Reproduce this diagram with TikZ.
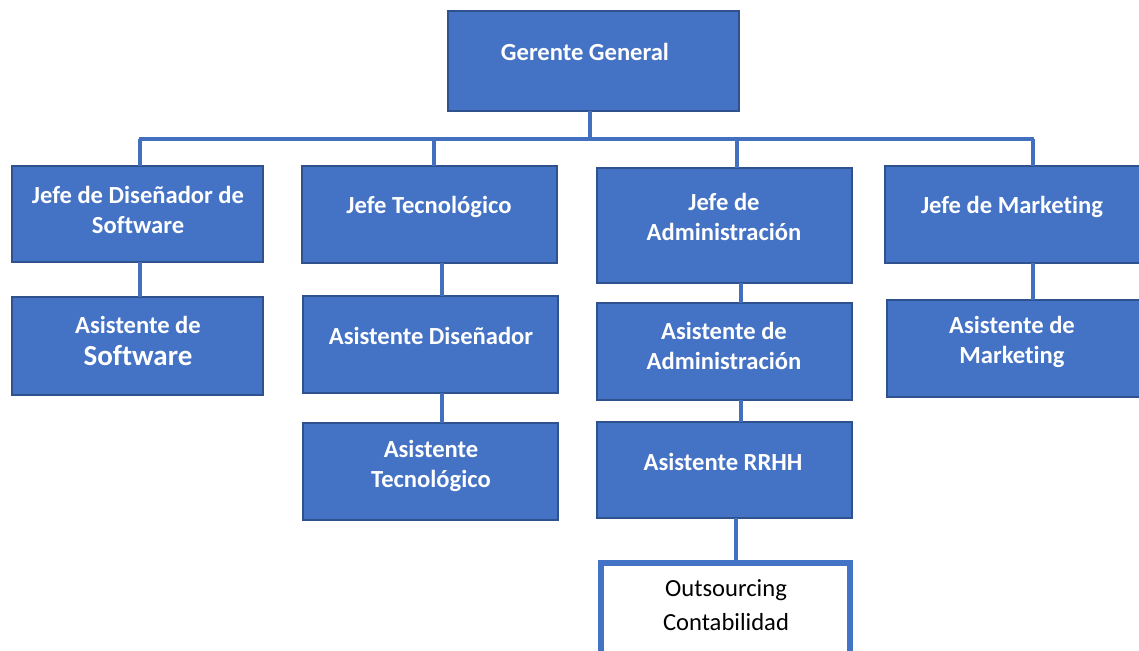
\documentclass[tikz,border=0pt]{standalone}
\usepackage{fontspec}
\setmainfont[Ligatures={NoCommon}]{Carlito}
\definecolor{boxfill}{HTML}{4472C4}
\definecolor{boxline}{HTML}{2F528F}
\definecolor{connc}{HTML}{4270BE}
\begin{document}
\begin{tikzpicture}[x=0.02cm,y=-0.02cm,
 box/.style={draw=boxline, line width=1.1pt, fill=boxfill, inner sep=0pt, outer sep=0pt},
 lbl/.style={text=white, font=\bfseries\fontsize{14}{17}\selectfont, align=center, inner sep=0pt},
 conn/.style={draw=connc, line width=2pt}]
\useasboundingbox (0,0) rectangle (1139,650);
\clip (0,0) rectangle (1139,650);
% boxes
\node[box, minimum width=5.82cm, minimum height=2.00cm] (gg) at (593.5,61) {};
\node[box, minimum width=5.02cm, minimum height=1.92cm] (jd) at (137.5,214) {};
\node[box, minimum width=5.02cm, minimum height=1.96cm] (as) at (137.5,346) {};
\node[box, minimum width=5.10cm, minimum height=1.94cm] (jt) at (429.5,214.5) {};
\node[box, minimum width=5.10cm, minimum height=1.94cm] (ad) at (430.5,344.5) {};
\node[box, minimum width=5.10cm, minimum height=1.94cm] (at) at (430.5,471.5) {};
\node[box, minimum width=5.10cm, minimum height=2.30cm] (ja) at (724.5,225.5) {};
\node[box, minimum width=5.10cm, minimum height=1.94cm] (aa) at (724.5,351.5) {};
\node[box, minimum width=5.10cm, minimum height=1.92cm] (rr) at (724.5,470) {};
\node[box, minimum width=5.10cm, minimum height=1.94cm] (jm) at (1012.5,214.5) {};
\node[box, minimum width=5.06cm, minimum height=1.94cm] (am) at (1013.5,348.5) {};
\node[draw=boxfill, line width=0.13cm, fill=white, inner sep=0pt, outer sep=0pt,
      minimum width=4.98cm, minimum height=2.8cm] (oc) at (725.5,633) {};
% labels
\node[lbl] (tgg) at (585,52) {Gerente General};
\node[lbl] (tjd) at (138,210) {Jefe de Diseñador de\\Software};
\node[lbl, font=\bfseries\fontsize{14}{18.2}\selectfont] (tas) at (138,341) {Asistente de\\{\fontsize{16.5}{18.2}\selectfont Software}};
\node[lbl] (tjt) at (429,207) {Jefe Tecnológico};
\node[lbl] (tad) at (431,336) {Asistente Diseñador};
\node[lbl] (tat) at (431,466) {Asistente\\Tecnológico};
\node[lbl] (tja) at (724,217) {Jefe de\\Administración};
\node[lbl] (taa) at (724,346) {Asistente de\\Administración};
\node[lbl] (trr) at (723,462) {Asistente RRHH};
\node[lbl] (tjm) at (1012,207) {Jefe de Marketing};
\node[lbl] (tam) at (1012,342) {Asistente de\\Marketing};
\node[text=black, font=\fontsize{14}{19.4}\selectfont, align=center, inner sep=0pt] (toc) at (726,605) {Outsourcing\\Contabilidad};
% bus
\coordinate (busL) at (139,139);
\coordinate (busR) at (1034,139);
\coordinate (k1) at (140,139);
\coordinate (k2) at (434,139);
\coordinate (k2b) at (442,139);
\coordinate (k3) at (737,139);
\coordinate (k3b) at (741,139);
\coordinate (k3c) at (736,139);
\coordinate (k4) at (1033,139);
\coordinate (kg) at (590,139);
\draw[conn] (busL) -- (busR);
\draw[conn] (gg.south -| kg) -- (kg);
\draw[conn] (k1) -- (k1 |- jd.north);
\draw[conn] (jd.south -| k1) -- (as.north -| k1);
\draw[conn] (k2) -- (k2 |- jt.north);
\draw[conn] (jt.south -| k2b) -- (ad.north -| k2b);
\draw[conn] (ad.south -| k2b) -- (at.north -| k2b);
\draw[conn] (k3) -- (k3 |- ja.north);
\draw[conn] (ja.south -| k3b) -- (aa.north -| k3b);
\draw[conn] (aa.south -| k3b) -- (rr.north -| k3b);
\draw[conn] (rr.south -| k3c) -- ([yshift=0.065cm]oc.north -| k3c);
\draw[conn] (k4) -- (k4 |- jm.north);
\draw[conn] (jm.south -| k4) -- (am.north -| k4);
\end{tikzpicture}
\end{document}
